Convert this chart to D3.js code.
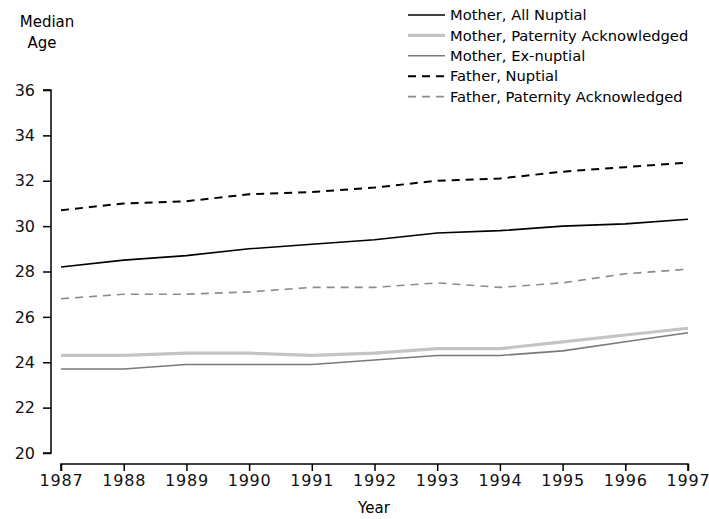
<!DOCTYPE html>
<html>
<head>
<meta charset="utf-8">
<script src="https://cdn.jsdelivr.net/npm/d3@7"></script>
<style>
  body { margin: 0; background: #fff; }
  svg { font-family: "DejaVu Sans", sans-serif; }
</style>
</head>
<body>
<div id="chart"></div>
<script>
const years = [1987, 1988, 1989, 1990, 1991, 1992, 1993, 1994, 1995, 1996, 1997];
const motherNuptial = [28.2, 28.5, 28.7, 29.0, 29.2, 29.4, 29.7, 29.8, 30.0, 30.1, 30.3];
const motherPaternity = [24.3, 24.3, 24.4, 24.4, 24.3, 24.4, 24.6, 24.6, 24.9, 25.2, 25.5];
const motherExNuptial = [23.7, 23.7, 23.9, 23.9, 23.9, 24.1, 24.3, 24.3, 24.5, 24.9, 25.3];
const fatherNuptial = [30.7, 31.0, 31.1, 31.4, 31.5, 31.7, 32.0, 32.1, 32.4, 32.6, 32.8];
const fatherPaternity = [26.8, 27.0, 27.0, 27.1, 27.3, 27.3, 27.5, 27.3, 27.5, 27.9, 28.1];
const yTicks = [20, 22, 24, 26, 28, 30, 32, 34, 36];

const width = 709;
const height = 519;

const series = [
  {name: 'Mother, All Nuptial', values: motherNuptial, color: '#000', w: 1.6, dash: null},
  {name: 'Mother, Paternity Acknowledged', values: motherPaternity, color: '#c4c4c4', w: 3.2, dash: null},
  {name: 'Mother, Ex-nuptial', values: motherExNuptial, color: '#7a7a7a', w: 1.6, dash: null},
  {name: 'Father, Nuptial', values: fatherNuptial, color: '#000', w: 2, dash: '8,6'},
  {name: 'Father, Paternity Acknowledged', values: fatherPaternity, color: '#8c8c8c', w: 1.6, dash: '8,6'},
];

const svg = d3.select('#chart')
  .append('svg')
  .attr('width', width)
  .attr('height', height);

const x = d3.scaleLinear()
  .domain([1987, 1997])
  .range([61, 688]);

const y = d3.scaleLinear()
  .domain([20, 36])
  .range([453, 90]);

// axes
svg.append('g')
  .attr('transform', 'translate(51,0)')
  .call(d3.axisLeft(y).tickValues(yTicks).tickSize(8).tickPadding(8))
  .call(g => g.select('.domain').attr('d', `M-8,${y(36)}H0V${y(20)}H-8`))
  .attr('font-size', 16)
  .attr('font-family', '"DejaVu Sans", sans-serif')
  .selectAll('line, path').attr('stroke', '#000').attr('stroke-width', 1.5);

svg.append('g')
  .attr('transform', 'translate(0,464)')
  .call(d3.axisBottom(x).tickValues(years).tickFormat(d3.format('d')).tickSize(7).tickPadding(4))
  .call(g => g.select('.domain').attr('d', `M${x(1987)},7V0H${x(1997)}V7`))
  .attr('font-size', 16)
  .attr('letter-spacing', '0.8px')
  .attr('font-family', '"DejaVu Sans", sans-serif')
  .selectAll('line, path').attr('stroke', '#000').attr('stroke-width', 1.5);

svg.selectAll('.tick text').attr('fill', '#111');

// lines
const line = d3.line()
  .x((d, i) => x(years[i]))
  .y(d => y(d));

svg.append('g')
  .selectAll('path')
  .data(series)
  .join('path')
  .attr('d', d => line(d.values))
  .attr('fill', 'none')
  .attr('stroke', d => d.color)
  .attr('stroke-width', d => d.w)
  .attr('stroke-dasharray', d => d.dash);

// titles
svg.append('text')
  .attr('x', 47).attr('y', 27)
  .attr('text-anchor', 'middle')
  .attr('font-size', 15)
  .text('Median');
svg.append('text')
  .attr('x', 42).attr('y', 48)
  .attr('text-anchor', 'middle')
  .attr('font-size', 15)
  .text('Age');
svg.append('text')
  .attr('x', 374).attr('y', 513)
  .attr('text-anchor', 'middle')
  .attr('font-size', 15)
  .text('Year');

// legend
const legend = svg.append('g')
  .selectAll('g')
  .data(series)
  .join('g')
  .attr('transform', (d, i) => `translate(408,${15 + i * 20.4})`);

legend.append('line')
  .attr('x1', 0).attr('x2', 37)
  .attr('stroke', d => d.color)
  .attr('stroke-width', d => d.w)
  .attr('stroke-dasharray', d => d.dash);

legend.append('text')
  .attr('x', 42)
  .attr('dy', '0.35em')
  .attr('font-size', 14.7)
  .text(d => d.name);
</script>
</body>
</html>
